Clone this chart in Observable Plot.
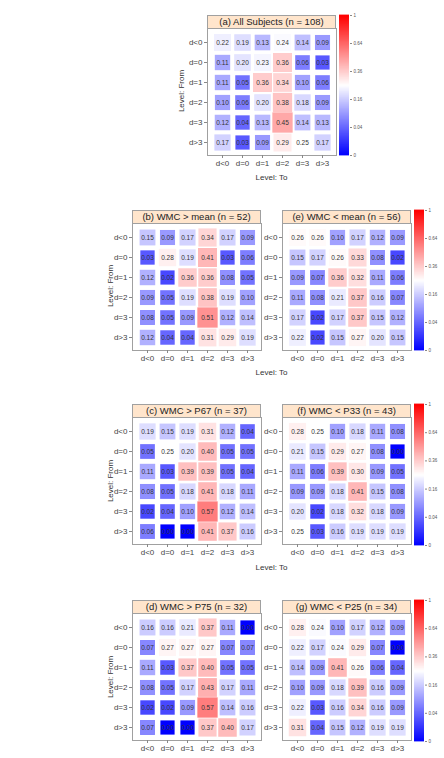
<!DOCTYPE html>
<html><head><meta charset="utf-8">
<script src="https://cdn.jsdelivr.net/npm/d3@7"></script>
<script src="https://cdn.jsdelivr.net/npm/@observablehq/plot@0.6"></script>
<style>
body{margin:0;background:#fff;font-family:"Liberation Sans",Arial,sans-serif;}
#root{position:relative;width:444px;height:758px;overflow:hidden;background:#fff;}
.strip{position:absolute;box-sizing:border-box;background:#FFE5CC;border:1px solid #a0a0a0;font-size:9.5px;line-height:11px;text-align:center;color:#222;white-space:nowrap;}
.lab{position:absolute;font-size:8px;color:#333;white-space:nowrap;transform:translate(-50%,-50%);}
.labv{position:absolute;font-size:8px;color:#333;white-space:nowrap;transform:translate(-50%,-50%) rotate(-90deg);}
</style></head><body><div id="root"></div>
<script>
// ---- data ----
const levelsFrom = ["d<0","d=0","d=1","d=2","d=3","d>3"];
const levelsTo   = ["d<0","d=0","d=1","d=2","d=3","d>3"];
const colorTicks = [0, 0.04, 0.16, 0.36, 0.64, 1];
const titleA = "(a) All Subjects (n = 108)";
const titleB = "(b) WMC > mean (n = 52)";
const titleE = "(e) WMC < mean (n = 56)";
const titleC = "(c) WMC > P67 (n = 37)";
const titleF = "(f) WMC < P33 (n = 43)";
const titleD = "(d) WMC > P75 (n = 32)";
const titleG = "(g) WMC < P25 (n = 34)";
const allSubjects = [
  [0.22,0.19,0.13,0.24,0.14,0.09],
  [0.11,0.20,0.23,0.36,0.06,0.03],
  [0.11,0.05,0.36,0.34,0.10,0.06],
  [0.10,0.06,0.20,0.38,0.18,0.09],
  [0.12,0.04,0.13,0.45,0.14,0.13],
  [0.17,0.03,0.09,0.29,0.25,0.17]];
const aboveMean = [
  [0.15,0.09,0.17,0.34,0.17,0.09],
  [0.03,0.28,0.19,0.41,0.03,0.06],
  [0.12,0.02,0.36,0.36,0.08,0.05],
  [0.09,0.05,0.19,0.38,0.19,0.10],
  [0.08,0.05,0.09,0.51,0.12,0.14],
  [0.12,0.04,0.04,0.31,0.29,0.19]];
const belowMean = [
  [0.26,0.26,0.10,0.17,0.12,0.09],
  [0.15,0.17,0.26,0.33,0.08,0.02],
  [0.09,0.07,0.36,0.32,0.11,0.06],
  [0.11,0.08,0.21,0.37,0.16,0.07],
  [0.17,0.02,0.17,0.37,0.15,0.12],
  [0.22,0.02,0.15,0.27,0.20,0.15]];
const aboveP67 = [
  [0.19,0.15,0.19,0.31,0.12,0.04],
  [0.05,0.25,0.20,0.40,0.05,0.05],
  [0.11,0.03,0.39,0.39,0.05,0.04],
  [0.08,0.05,0.18,0.41,0.18,0.11],
  [0.02,0.04,0.10,0.57,0.12,0.14],
  [0.06,0.00,0.00,0.41,0.37,0.16]];
const belowP33 = [
  [0.28,0.25,0.10,0.18,0.11,0.08],
  [0.21,0.15,0.29,0.27,0.08,0.00],
  [0.11,0.06,0.39,0.30,0.09,0.05],
  [0.09,0.09,0.18,0.41,0.15,0.08],
  [0.20,0.02,0.18,0.32,0.18,0.09],
  [0.25,0.03,0.16,0.19,0.19,0.19]];
const aboveP75 = [
  [0.16,0.16,0.21,0.37,0.11,0.00],
  [0.07,0.27,0.27,0.27,0.07,0.07],
  [0.11,0.03,0.37,0.40,0.05,0.05],
  [0.08,0.05,0.17,0.43,0.17,0.11],
  [0.02,0.02,0.09,0.57,0.14,0.16],
  [0.07,0.00,0.00,0.37,0.40,0.17]];
const belowP25 = [
  [0.28,0.24,0.10,0.17,0.12,0.09],
  [0.22,0.17,0.24,0.29,0.07,0.00],
  [0.14,0.09,0.41,0.26,0.06,0.04],
  [0.10,0.09,0.18,0.39,0.16,0.09],
  [0.22,0.03,0.16,0.34,0.16,0.09],
  [0.31,0.04,0.15,0.12,0.19,0.19]];

// ---- layout ----
const W = 129, H = 127, STRIP = 13;
const panels = [
  {title: titleA, vals: allSubjects, x0: 207, y0: 27.6, group: 0},
  {title: titleB, vals: aboveMean,   x0: 132, y0: 222.6, group: 1},
  {title: titleE, vals: belowMean,   x0: 282, y0: 222.6, group: 1},
  {title: titleC, vals: aboveP67,    x0: 132, y0: 416.8, group: 2},
  {title: titleF, vals: belowP33,    x0: 282, y0: 416.8, group: 2},
  {title: titleD, vals: aboveP75,    x0: 132, y0: 612.5, group: 3},
  {title: titleG, vals: belowP25,    x0: 282, y0: 612.5, group: 3}
];
const colorbars = [
  {x: 339, y: 14.6, h: 140},
  {x: 414, y: 209.6, h: 140},
  {x: 414, y: 403.8, h: 141},
  {x: 414, y: 599.5, h: 141}
];
const fromLabels = [{x: 181, y: 91}, {x: 110, y: 286}, {x: 110, y: 481}, {x: 110, y: 677}];
const toLabels = [{x: 271.5, y: 176.7}, {x: 271.5, y: 372}, {x: 271.5, y: 566.8}];

const root = document.getElementById("root");
const colorOpts = {type: "sqrt", domain: [0, 0.25, 1], range: ["#0000ff", "#ffffff", "#ff0000"], interpolate: "rgb"};
const fmt = d3.format(".2f");
const FONT = "'Liberation Sans', Arial, sans-serif";

function tidy(vals) {
  const out = [];
  vals.forEach((row, i) => row.forEach((v, j) => out.push({from: levelsFrom[i], to: levelsTo[j], v})));
  return out;
}
const groupExtent = {};
panels.forEach(p => {
  const vs = p.vals.flat();
  const e = groupExtent[p.group] || [Infinity, -Infinity];
  groupExtent[p.group] = [Math.min(e[0], d3.min(vs)), Math.max(e[1], d3.max(vs))];
});

const pitch = 20.3;
const R = pitch / Math.sqrt(Math.PI);

panels.forEach(p => {
  const data = tidy(p.vals);
  const ML = 34, MR = 2, MT = 1, MB = 18;
  const chart = Plot.plot({
    width: W + ML + MR, height: H + MT + MB,
    marginLeft: ML, marginRight: MR, marginTop: MT, marginBottom: MB,
    style: {fontFamily: FONT, fontSize: "8px", color: "#444", background: "transparent", overflow: "visible"},
    x: {type: "band", domain: levelsTo, padding: 0, insetLeft: 3, insetRight: 3},
    y: {type: "band", domain: levelsFrom, padding: 0, insetTop: 3, insetBottom: 3},
    color: colorOpts,
    r: {type: "linear", domain: groupExtent[p.group], range: [0.7 * R, R], clamp: true},
    marks: [
      Plot.frame({stroke: "#a0a0a0"}),
      Plot.dot(data, {x: "to", y: "from", r: "v", fill: "v", symbol: "square", stroke: "none"}),
      Plot.text(data, {x: "to", y: "from", text: d => fmt(d.v), fontSize: 6.5, fill: "#333"}),
      Plot.axisX({tickSize: 3, tickPadding: 2, label: null, stroke: "#888"}),
      Plot.axisY({tickSize: 3, tickPadding: 2, label: null, stroke: "#888"})
    ]
  });
  chart.style.position = "absolute";
  chart.style.left = (p.x0 - ML) + "px";
  chart.style.top = (p.y0 - MT) + "px";
  root.appendChild(chart);

  const s = document.createElement("div");
  s.className = "strip";
  s.textContent = p.title;
  s.style.left = p.x0 + "px";
  s.style.top = (p.y0 - STRIP) + "px";
  s.style.width = W + "px";
  s.style.height = (STRIP + 1) + "px";
  root.appendChild(s);
});

const N = 140;
const steps = d3.range(N).map(i => ({a: (i / N) ** 2, b: ((i + 1) / N) ** 2, m: ((i + 0.5) / N) ** 2}));
colorbars.forEach(c => {
  const MT = 3, MB = 3, MR = 20;
  const bar = Plot.plot({
    width: 10 + MR, height: c.h + MT + MB,
    marginLeft: 0, marginRight: MR, marginTop: MT, marginBottom: MB,
    style: {fontFamily: FONT, fontSize: "4.5px", color: "#555", background: "transparent", overflow: "visible"},
    x: {domain: [0, 1], axis: null},
    y: {type: "sqrt", domain: [0, 1]},
    color: colorOpts,
    marks: [
      Plot.rect(steps, {x1: 0, x2: 1, y1: "a", y2: "b", fill: "m", insetTop: -0.4, insetBottom: -0.4}),
      Plot.axisY({anchor: "right", ticks: colorTicks, tickFormat: d3.format("~g"), tickSize: 2, tickPadding: 2, label: null, fontSize: 4.5, stroke: "#888"})
    ]
  });
  bar.style.position = "absolute";
  bar.style.left = c.x + "px";
  bar.style.top = (c.y - MT) + "px";
  root.appendChild(bar);
});

fromLabels.forEach(l => {
  const d = document.createElement("div");
  d.className = "labv"; d.textContent = "Level: From";
  d.style.left = l.x + "px"; d.style.top = l.y + "px";
  root.appendChild(d);
});
toLabels.forEach(l => {
  const d = document.createElement("div");
  d.className = "lab"; d.textContent = "Level: To";
  d.style.left = l.x + "px"; d.style.top = l.y + "px";
  root.appendChild(d);
});
</script></body></html>
